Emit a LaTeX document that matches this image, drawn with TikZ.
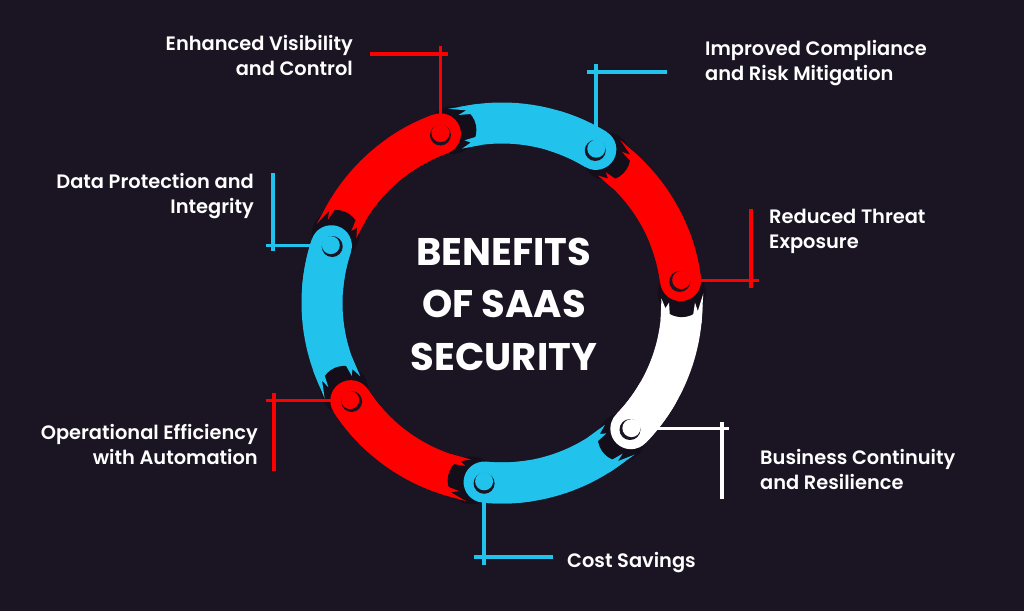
\documentclass[tikz,border=0pt]{standalone}
\usepackage{fontspec}
\setmainfont{Poppins}
\newfontfamily\labfont{Poppins SemiBold}
\usetikzlibrary{calc}
\definecolor{bg}{RGB}{27,21,35}
\definecolor{shadowc}{RGB}{19,14,25}
\definecolor{sred}{RGB}{255,0,0}
\definecolor{sblue}{RGB}{33,194,236}
\definecolor{swhite}{RGB}{255,255,255}
\tikzset{
  lbl/.style={text=white, inner sep=0pt, font=\fontsize{19.4}{25.5}\selectfont\labfont},
  ttl/.style={text=white, inner sep=0pt, font=\fontsize{38.5}{52.5}\selectfont\bfseries},
  conn/.style={line width=3.5pt},
}
\begin{document}
\begin{tikzpicture}[x=1pt,y=1pt]
\useasboundingbox (0,0) rectangle (1024,-611);
\fill[bg] (0,0) rectangle (1024,-611);
\coordinate (C) at (502,-303);
% pass 1: bodies
\foreach \h/\p/\c in {110/161.43/sred, 58.57/110/sblue, 7.14/58.57/sred, -44.29/7.14/swhite, -95.71/-44.29/sblue, -147.14/-95.71/sred, -198.57/-147.14/sblue}{
  \draw[line width=41pt, color=\c] ($(C)+({\p-2}:180pt)$) arc[start angle=\p-2, end angle=\h, radius=180pt];
}
% pass 2: shadows cast by heads
\foreach \h in {110, 58.57, 7.14, -44.29, -95.71, -147.14, -198.57}{
  \fill[shadowc] ($(C)+({\h-4}:180pt)$) circle[radius=24pt];
}
% pass 3: frayed tails
\foreach \p/\c in {161.43/sred, 110/sblue, 58.57/sred, 7.14/swhite, -44.29/sblue, -95.71/sred, -147.14/sblue}{
  \fill[\c] ($(C)+({\p-13}:159.5pt)$) -- ($(C)+({\p-5.5}:159.5pt)$) -- ($(C)+({\p-9}:163.5pt)$)
     -- ($(C)+({\p-7}:167pt)$) -- ($(C)+({\p-13}:169pt)$) -- cycle;
  \fill[\c] ($(C)+({\p-13}:191pt)$) -- ($(C)+({\p-7}:193pt)$) -- ($(C)+({\p-9.5}:196pt)$)
     -- ($(C)+({\p-4.5}:201.5pt)$) -- ($(C)+({\p-13}:200.5pt)$) -- cycle;
}
% pass 4: heads
\foreach \h/\c [count=\i from 0] in {110/sred, 58.57/sblue, 7.14/sred, -44.29/swhite, -95.71/sblue, -147.14/sred, -198.57/sblue}{
  \draw[line width=41pt, color=\c, line cap=round] ($(C)+({\h+14}:180pt)$) arc[start angle=\h+14, end angle=\h, radius=180pt];
  \coordinate (k\i) at ($(C)+(\h:180pt)$);
}
% connectors
\coordinate (e0) at (k0 |- 0,-46);
\coordinate (b0a) at (370,-54); \coordinate (b0b) at (448,-54);
\draw[conn, sred] (k0) -- (e0); \draw[conn, sred] (b0a) -- (b0b);
\coordinate (e1) at (k1 |- 0,-64);
\coordinate (b1a) at (587,-72); \coordinate (b1b) at (667,-72);
\draw[conn, sblue] (k1) -- (e1); \draw[conn, sblue] (b1a) -- (b1b);
\coordinate (e2) at (759,0 |- k2);
\coordinate (b2a) at (751,-209); \coordinate (b2b) at (751,-288);
\draw[conn, sred] (k2) -- (e2); \draw[conn, sred] (b2a) -- (b2b);
\coordinate (e3) at (729,0 |- k3);
\coordinate (b3a) at (722,-422); \coordinate (b3b) at (722,-499);
\draw[conn, swhite] (k3) -- (e3); \draw[conn, swhite] (b3a) -- (b3b);
\coordinate (e4) at (k4 |- 0,-565);
\coordinate (b4a) at (474,-557); \coordinate (b4b) at (553,-557);
\draw[conn, sblue] (k4) -- (e4); \draw[conn, sblue] (b4a) -- (b4b);
\coordinate (e5) at (266,0 |- k5);
\coordinate (b5a) at (274,-393); \coordinate (b5b) at (274,-471);
\draw[conn, sred] (k5) -- (e5); \draw[conn, sred] (b5a) -- (b5b);
\coordinate (e6) at (266,0 |- k6);
\coordinate (b6a) at (273,-173); \coordinate (b6b) at (273,-251);
\draw[conn, sblue] (k6) -- (e6); \draw[conn, sblue] (b6a) -- (b6b);
% knobs
\foreach \c/\ph [count=\i from 0] in {sred/90, sblue/60, sred/45, swhite/45, sblue/90, sred/135, sblue/135}{
  \fill[bg] ($(k\i)+({\ph+180}:1.2pt)$) circle[radius=10.5pt];
  \fill[\c] ($(k\i)+(\ph:0.8pt)$) circle[radius=9pt];
}
% labels
\node[lbl, anchor=base east] (t0) at (353,-50) {\begin{tabular}[t]{@{}r@{}}Enhanced Visibility\\and Control\end{tabular}};
\node[lbl, anchor=base west] (t1) at (705,-55) {\begin{tabular}[t]{@{}l@{}}Improved Compliance\\and Risk Mitigation\end{tabular}};
\node[lbl, anchor=base west] (t2) at (769,-223) {\begin{tabular}[t]{@{}l@{}}Reduced Threat\\Exposure\end{tabular}};
\node[lbl, anchor=base west] (t3) at (760,-464) {\begin{tabular}[t]{@{}l@{}}Business Continuity\\and Resilience\end{tabular}};
\node[lbl, anchor=base west] (t4) at (567,-567) {Cost Savings};
\node[lbl, anchor=base east] (t5) at (258,-439) {\begin{tabular}[t]{@{}r@{}}Operational Efficiency\\with Automation\end{tabular}};
\node[lbl, anchor=base east] (t6) at (254,-188) {\begin{tabular}[t]{@{}r@{}}Data Protection and\\Integrity\end{tabular}};
\node[ttl, anchor=base] (T) at (504,-265) {\begin{tabular}[t]{@{}c@{}}BENEFITS\\OF SAAS\\SECURITY\end{tabular}};
\end{tikzpicture}
\end{document}
